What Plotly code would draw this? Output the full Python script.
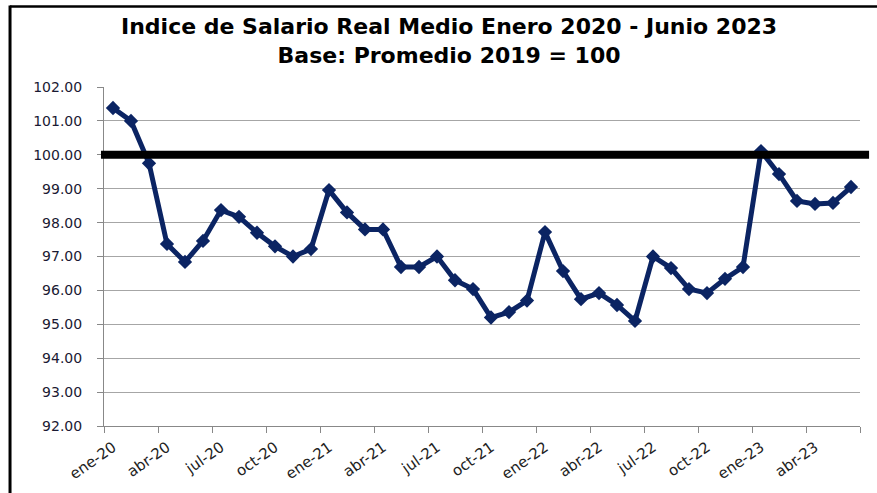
import plotly.graph_objects as go

months = ["ene-20","feb-20","mar-20","abr-20","may-20","jun-20","jul-20","ago-20","sep-20","oct-20","nov-20","dic-20",
          "ene-21","feb-21","mar-21","abr-21","may-21","jun-21","jul-21","ago-21","sep-21","oct-21","nov-21","dic-21",
          "ene-22","feb-22","mar-22","abr-22","may-22","jun-22","jul-22","ago-22","sep-22","oct-22","nov-22","dic-22",
          "ene-23","feb-23","mar-23","abr-23","may-23","jun-23"]
salario = [101.38, 101.00, 99.75, 97.37, 96.84, 97.46, 98.37, 98.17, 97.70, 97.30, 97.00, 97.22,
           98.96, 98.30, 97.80, 97.80, 96.69, 96.69, 97.00, 96.30, 96.04, 95.20, 95.36, 95.70,
           97.72, 96.57, 95.74, 95.92, 95.57, 95.10, 97.00, 96.66, 96.04, 95.92, 96.34, 96.69,
           100.11, 99.43, 98.64, 98.55, 98.58, 99.05]
base = 100
y_ticks = [92, 93, 94, 95, 96, 97, 98, 99, 100, 101, 102]
title_1 = "Indice de Salario Real Medio Enero 2020 - Junio 2023"
title_2 = "Base: Promedio 2019 = 100"

x_idx = list(range(len(months)))
label_idx = x_idx[::3]
label_txt = [months[i] for i in label_idx]
boundaries = [i - 0.5 for i in range(0, len(months) + 1, 3)]

fig = go.Figure()
fig.add_trace(go.Scatter(
    x=x_idx, y=salario, mode="lines+markers",
    line=dict(color="#0b2463", width=5),
    marker=dict(symbol="diamond", size=11, color="#0b2463"),
    hoverinfo="y", showlegend=False))

fig.add_shape(type="line", xref="paper", yref="y", x0=-0.004, x1=1.012, y0=base, y1=base,
              line=dict(color="black", width=8), layer="above")

# outer frame (top and left)
fig.add_shape(type="line", xref="paper", yref="paper", x0=-0.1243, x1=1.03, y0=1.2374, y1=1.2374,
              line=dict(color="black", width=2.5))
fig.add_shape(type="line", xref="paper", yref="paper", x0=-0.1243, x1=-0.1243, y0=1.2404, y1=-0.21,
              line=dict(color="black", width=3))

fig.add_annotation(text=title_1 + "<br>" + title_2, xref="paper", yref="paper",
                   x=(449 - 104) / 756, y=(426 - 41) / 339,
                   xanchor="center", yanchor="middle", showarrow=False, align="center",
                   font=dict(family="DejaVu Sans", size=22, color="black", weight="bold"))

fig.update_layout(
    width=877, height=493,
    margin=dict(l=104, r=17, t=87, b=67, autoexpand=False),
    paper_bgcolor="white", plot_bgcolor="white",
    xaxis=dict(range=[-0.5, len(months) - 0.5], tickmode="array", tickvals=label_idx, ticktext=label_txt,
               tickangle=-35, ticks="", showgrid=False, zeroline=False,
               showline=True, linecolor="#888888", linewidth=1, ticklabelstandoff=6,
               tickfont=dict(family="DejaVu Sans", size=15, color="#222222"),
               minor=dict(tickmode="array", tickvals=boundaries, ticks="outside", ticklen=6,
                          tickcolor="#888888", showgrid=False)),
    yaxis=dict(range=[92, 102], tickmode="array", tickvals=y_ticks, tickformat=".2f",
               showgrid=True, gridcolor="#a6a6a6", gridwidth=1, zeroline=False,
               showline=True, linecolor="#888888", linewidth=1,
               ticks="outside", ticklen=6, tickcolor="#888888", ticklabelstandoff=12,
               tickfont=dict(family="DejaVu Sans", size=14, color="#1a1a33")),
)

fig.write_html("out.html", config={"displayModeBar": False},
               post_script="document.body.style.margin='0';")
